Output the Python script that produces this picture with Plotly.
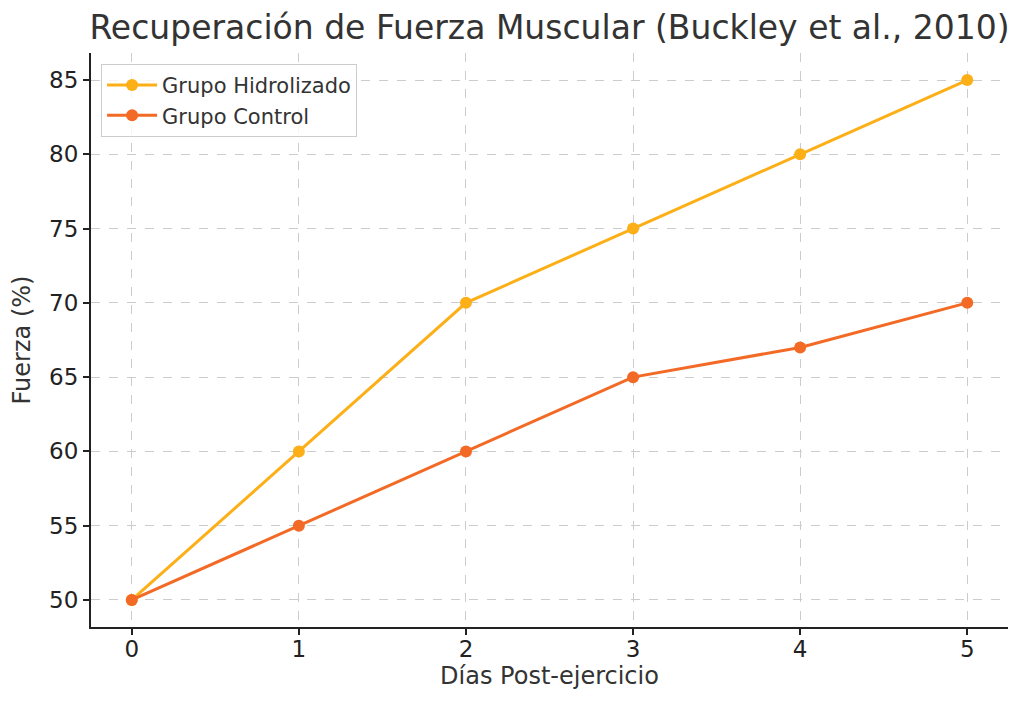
import plotly.graph_objects as go

dias = [0, 1, 2, 3, 4, 5]
hidrolizado = [50, 60, 70, 75, 80, 85]
control = [50, 55, 60, 65, 67, 70]

fig = go.Figure()

fig.add_scatter(x=dias, y=hidrolizado, mode="lines+markers",
                name="Grupo Hidrolizado",
                line=dict(color="#FCAF17", width=3),
                marker=dict(size=12, color="#FCAF17"))
fig.add_scatter(x=dias, y=control, mode="lines+markers",
                name="Grupo Control",
                line=dict(color="#F26A25", width=3),
                marker=dict(size=12, color="#F26A25"))

axis_common = dict(
    showgrid=True,
    gridcolor="#cccccc",
    griddash="dash",
    gridwidth=1,
    zeroline=False,
    showline=True,
    linecolor="#222222",
    linewidth=2,
    ticks="outside",
    tickcolor="#222222",
    ticklen=6,
    tickwidth=2,
    tickfont=dict(size=23, color="#222222"),
)

# page body has an 8px margin, so the figure is shifted by 8px
fig.update_layout(
    title=dict(text="Recuperación de Fuerza Muscular (Buckley et al., 2010)",
               x=0.5, xanchor="center", xref="paper",
               y=0.988, yanchor="top", yref="container",
               font=dict(size=33, color="#333333")),
    font=dict(family="DejaVu Sans"),
    margin=dict(l=78, r=16, t=45, b=80),
    width=1016, height=699,
    plot_bgcolor="white",
    paper_bgcolor="white",
    xaxis=dict(axis_common, range=[-0.244, 5.244], tickvals=dias,
               ticklabelstandoff=-6,
               title=dict(text="Días Post-ejercicio", font=dict(size=24, color="#333333"),
                          standoff=7)),
    yaxis=dict(axis_common, range=[48.18, 86.82], dtick=5,
               title=dict(text="Fuerza (%)", font=dict(size=24, color="#333333"),
                          standoff=12)),
    legend=dict(x=0.011, y=0.981, xanchor="left", yanchor="top",
                itemwidth=50,
                bgcolor="rgba(255,255,255,0.8)", bordercolor="#cccccc", borderwidth=1,
                font=dict(size=21, color="#333333")),
)

fig.write_html("out.html")
